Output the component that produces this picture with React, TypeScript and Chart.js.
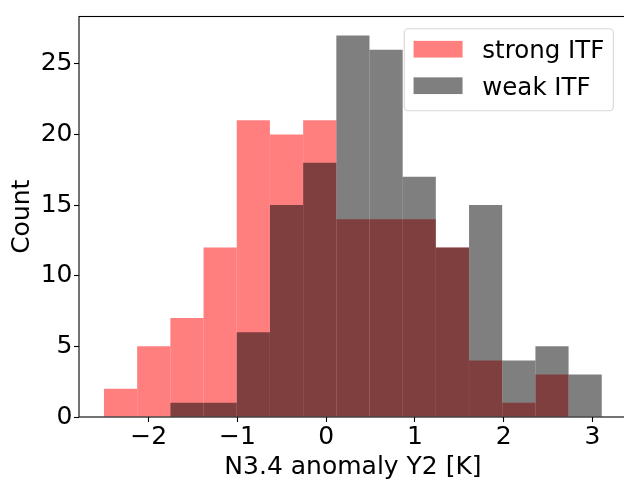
import React, { useEffect, useRef } from 'react';
import { Chart, registerables } from 'chart.js';

Chart.register(...registerables);

// Histogram bin edges (K) shared by both groups
const binEdges = [-2.504, -2.13, -1.756, -1.382, -1.008, -0.634, -0.26, 0.114, 0.488, 0.862, 1.235, 1.609, 1.983, 2.357, 2.731, 3.105];
// Counts per bin
const strongCounts = [2, 5, 7, 12, 21, 20, 21, 14, 14, 14, 12, 4, 1, 3, 0];
const weakCounts = [0, 0, 1, 1, 6, 15, 18, 27, 26, 17, 12, 15, 4, 5, 3];
const seriesLabels = ['strong ITF', 'weak ITF'];
const xTicks = [-2, -1, 0, 1, 2, 3];
const yTicks = [0, 5, 10, 15, 20, 25];
const xLabel = 'N3.4 anomaly Y2 [K]';
const yLabel = 'Count';

const FONT = '"DejaVu Sans", sans-serif';
const TICK_SIZE = 25;
const LEGEND_SIZE = 24.5;

function toBars(counts: number[]) {
  return counts.map((c, i) => ({ x: (binEdges[i] + binEdges[i + 1]) / 2, y: c }));
}

function fmtTick(v: number) {
  return v < 0 ? '\u2212' + Math.abs(v) : String(v);
}

// Axes frame (matplotlib-style spines) and boxed legend
const framePlugin = {
  id: 'frameAndLegend',
  afterDatasetsDraw(chart: any) {
    const { ctx, chartArea: a } = chart;
    ctx.save();
    ctx.strokeStyle = '#000';
    ctx.lineWidth = 1.1;
    ctx.strokeRect(a.left, a.top, a.right - a.left, a.bottom - a.top);
    ctx.restore();
  },
  afterDraw(chart: any) {
    const { ctx, chartArea: a } = chart;
    const ds = chart.data.datasets;
    ctx.save();
    ctx.font = `${LEGEND_SIZE}px ${FONT}`;
    const textW = Math.max(...ds.map((d: any) => ctx.measureText(d.label).width));
    const padL = 9.3, handleW = 49, handleH = 16.7, gap = 19.7, padR = 9;
    const right = a.right - 13.7;
    const top = a.top + 12.3;
    const width = padL + handleW + gap + textW + padR;
    const height = 82;
    const left = right - width;
    const r = 4;
    ctx.beginPath();
    ctx.moveTo(left + r, top);
    ctx.lineTo(left + width - r, top);
    ctx.arcTo(left + width, top, left + width, top + r, r);
    ctx.lineTo(left + width, top + height - r);
    ctx.arcTo(left + width, top + height, left + width - r, top + height, r);
    ctx.lineTo(left + r, top + height);
    ctx.arcTo(left, top + height, left, top + height - r, r);
    ctx.lineTo(left, top + r);
    ctx.arcTo(left, top, left + r, top, r);
    ctx.closePath();
    ctx.fillStyle = 'rgba(255,255,255,0.8)';
    ctx.fill();
    ctx.strokeStyle = 'rgba(204,204,204,0.8)';
    ctx.lineWidth = 1.1;
    ctx.stroke();
    ds.forEach((d: any, i: number) => {
      const cy = top + 20.4 + i * 36.5;
      ctx.fillStyle = d.backgroundColor;
      ctx.fillRect(left + padL, cy - handleH / 2, handleW, handleH);
      ctx.fillStyle = '#000';
      ctx.textBaseline = 'alphabetic';
      ctx.textAlign = 'left';
      ctx.fillText(d.label, left + padL + handleW + gap, cy + 8.8);
    });
    ctx.restore();
  },
};

export default function App() {
  const canvasRef = useRef<HTMLCanvasElement>(null);

  useEffect(() => {
    if (!canvasRef.current) return;
    const chart = new Chart(canvasRef.current, {
      type: 'bar',
      data: {
        datasets: [
          {
            label: seriesLabels[0],
            data: toBars(strongCounts),
            backgroundColor: 'rgba(255,0,0,0.5)',
            order: 1,
          },
          {
            label: seriesLabels[1],
            data: toBars(weakCounts),
            backgroundColor: 'rgba(0,0,0,0.5)',
            order: 0,
          },
        ],
      },
      options: {
        responsive: false,
        animation: false,
        devicePixelRatio: 1,
        layout: { padding: { top: 10, right: 13, left: 0, bottom: 0 } },
        datasets: {
          bar: {
            grouped: false,
            barPercentage: 1,
            categoryPercentage: 1,
            borderWidth: 0,
            inflateAmount: 0,
          },
        },
        plugins: {
          legend: { display: false },
          tooltip: { enabled: false },
        },
        scales: {
          x: {
            type: 'linear',
            min: -2.785,
            max: 3.389,
            offset: false,
            afterBuildTicks: (s: any) => {
              s.ticks = xTicks.map((v) => ({ value: v }));
            },
            afterFit: (s: any) => {
              s.height = 83;
            },
            border: { display: false },
            grid: {
              offset: false,
              drawOnChartArea: false,
              drawTicks: true,
              tickLength: 5,
              tickColor: '#000',
              tickWidth: 1.1,
            },
            ticks: {
              color: '#000',
              padding: 0.5,
              maxRotation: 0,
              autoSkip: false,
              font: { family: FONT, size: TICK_SIZE },
              callback: (v: any) => fmtTick(Number(v)),
            },
            title: {
              display: true,
              text: xLabel,
              color: '#000',
              font: { family: FONT, size: TICK_SIZE },
              padding: { top: 0, bottom: 17.4 },
            },
          },
          y: {
            type: 'linear',
            min: 0,
            max: 28.35,
            afterBuildTicks: (s: any) => {
              s.ticks = yTicks.map((v) => ({ value: v }));
            },
            afterFit: (s: any) => {
              s.width = 79;
            },
            border: { display: false },
            grid: {
              drawOnChartArea: false,
              drawTicks: true,
              tickLength: 5,
              tickColor: '#000',
              tickWidth: 1.1,
            },
            ticks: {
              color: '#000',
              padding: 1.5,
              font: { family: FONT, size: TICK_SIZE },
              callback: (v: any) => fmtTick(Number(v)),
            },
            title: {
              display: true,
              text: yLabel,
              color: '#000',
              font: { family: FONT, size: TICK_SIZE },
              padding: { top: 7, bottom: 0 },
            },
          },
        },
      },
      plugins: [framePlugin],
    } as any);
    return () => chart.destroy();
  }, []);

  return (
    <div
      style={{
        position: 'fixed',
        left: 0,
        top: 0,
        width: 624,
        height: 479,
        overflow: 'hidden',
        background: '#fff',
      }}
    >
      <canvas ref={canvasRef} width={640} height={500} style={{ display: 'block', width: 640, height: 500 }} />
    </div>
  );
}
